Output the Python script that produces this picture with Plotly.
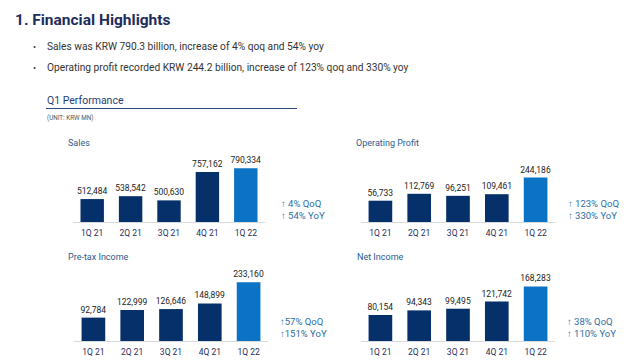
import plotly.graph_objects as go

quarters = ["1Q 21", "2Q 21", "3Q 21", "4Q 21", "1Q 22"]
sales = [512484, 538542, 500630, 757162, 790334]
op_profit = [56733, 112769, 96251, 109461, 244186]
pretax = [92784, 122999, 126646, 148899, 233160]
net_income = [80154, 94343, 99495, 121742, 168283]

panel_titles = ["Sales", "Operating Profit", "Pre-tax Income", "Net Income"]
qoq_text = ["↑ 4% QoQ<br>↑ 54% YoY", "↑ 123% QoQ<br>↑ 330% YoY",
            "↑57% QoQ<br>↑151% YoY", "↑ 38% QoQ<br>↑ 110% YoY"]

headline = "1. Financial Highlights"
bullets = ["Sales was KRW 790.3 billion, increase of 4% qoq and 54% yoy",
           "Operating profit recorded KRW 244.2 billion, increase of 123% qoq and 330% yoy"]

W, H = 644, 361
NAVY = "#06306a"
HIGHLIGHT = "#0b72c4"
FONT = "Roboto"

def px(x):
    return x / W

def py(y):
    return 1 - y / H

panels = [
    dict(vals=sales, xd=(73, 265), base=222, top=150, rng=(305000, 956600),
         tx=66, ty=143, qx=279, qy=209),
    dict(vals=op_profit, xd=(361, 555), base=222, top=150, rng=(-116000, 467900),
         tx=354, ty=143, qx=566, qy=209),
    dict(vals=pretax, xd=(74, 268), base=341, top=269, rng=(0, 285700),
         tx=66, ty=257, qx=278, qy=327),
    dict(vals=net_income, xd=(361, 555), base=341, top=269, rng=(0, 221900),
         tx=355, ty=257, qx=565, qy=327),
]

fig = go.Figure()
annotations = []
shapes = []
for i, p in enumerate(panels):
    n = i + 1
    xa = "x" if n == 1 else f"x{n}"
    ya = "y" if n == 1 else f"y{n}"
    lo = p["rng"][0]
    colors = [NAVY] * (len(quarters) - 1) + [HIGHLIGHT]
    fig.add_trace(go.Bar(
        x=quarters, y=[v - lo for v in p["vals"]], base=lo,
        marker=dict(color=colors, line=dict(width=0)),
        text=[f"{v:,}" for v in p["vals"]], textposition="outside",
        constraintext="none",
        textfont=dict(family=FONT, size=8.5, color="#222222"),
        cliponaxis=False, xaxis=xa, yaxis=ya, showlegend=False,
        hoverinfo="skip",
    ))
    fig.layout[f"xaxis{'' if n == 1 else n}"] = dict(
        domain=[px(p["xd"][0]), px(p["xd"][1])], anchor=ya,
        showgrid=False, showline=True, linecolor="#d9d9d9", linewidth=1,
        ticks="", ticklabelstandoff=3,
        tickfont=dict(family=FONT, size=8.5, color="#1f2d5c"),
        fixedrange=True,
    )
    fig.layout[f"yaxis{'' if n == 1 else n}"] = dict(
        domain=[py(p["base"]), py(p["top"])], anchor=xa, range=list(p["rng"]),
        visible=False, showgrid=False, zeroline=False, fixedrange=True,
    )
    annotations.append(dict(
        text=panel_titles[i], x=px(p["tx"]), y=py(p["ty"]), xref="paper", yref="paper",
        xanchor="left", yanchor="middle", showarrow=False,
        font=dict(family=FONT, size=9, color="#2e5a8c"),
    ))
    annotations.append(dict(
        text=qoq_text[i], x=px(p["qx"]), y=py(p["qy"]), xref="paper", yref="paper",
        xanchor="left", yanchor="middle", showarrow=False, align="left",
        font=dict(family=FONT, size=9.5, color="#2e6da4"),
    ))

annotations.append(dict(
    text=f"<b>{headline}</b>", x=px(13), y=py(20), xref="paper", yref="paper",
    xanchor="left", yanchor="middle", showarrow=False,
    font=dict(family=FONT, size=15.5, color="#1f2d5c"),
))
for j, b in enumerate(bullets):
    annotations.append(dict(
        text="•", x=px(31), y=py(47 + 21 * j), xref="paper", yref="paper",
        xanchor="left", yanchor="middle", showarrow=False,
        font=dict(family=FONT, size=9, color="#333333"),
    ))
    annotations.append(dict(
        text=b, x=px(45), y=py(47 + 21 * j), xref="paper", yref="paper",
        xanchor="left", yanchor="middle", showarrow=False,
        font=dict(family=FONT, size=10.2, color="#333333"),
    ))
annotations.append(dict(
    text="Q1 Performance", x=px(45), y=py(100), xref="paper", yref="paper",
    xanchor="left", yanchor="middle", showarrow=False,
    font=dict(family=FONT, size=10.5, color="#1f3d73"),
))
annotations.append(dict(
    text="(UNIT: KRW MN)", x=px(45), y=py(117.5), xref="paper", yref="paper",
    xanchor="left", yanchor="middle", showarrow=False,
    font=dict(family=FONT, size=6.3, color="#555555"),
))
shapes.append(dict(type="line", xref="paper", yref="paper",
                   x0=px(46), x1=px(297), y0=py(108.5), y1=py(108.5),
                   line=dict(color="#2b4a7a", width=1.2)))

fig.update_layout(
    width=W, height=H, margin=dict(l=0, r=0, t=0, b=0),
    paper_bgcolor="white", plot_bgcolor="white",
    bargap=0.39, annotations=annotations, shapes=shapes,
)
fig.write_html("out.html", config={"displayModeBar": False},
               post_script="document.body.style.margin='0';")
